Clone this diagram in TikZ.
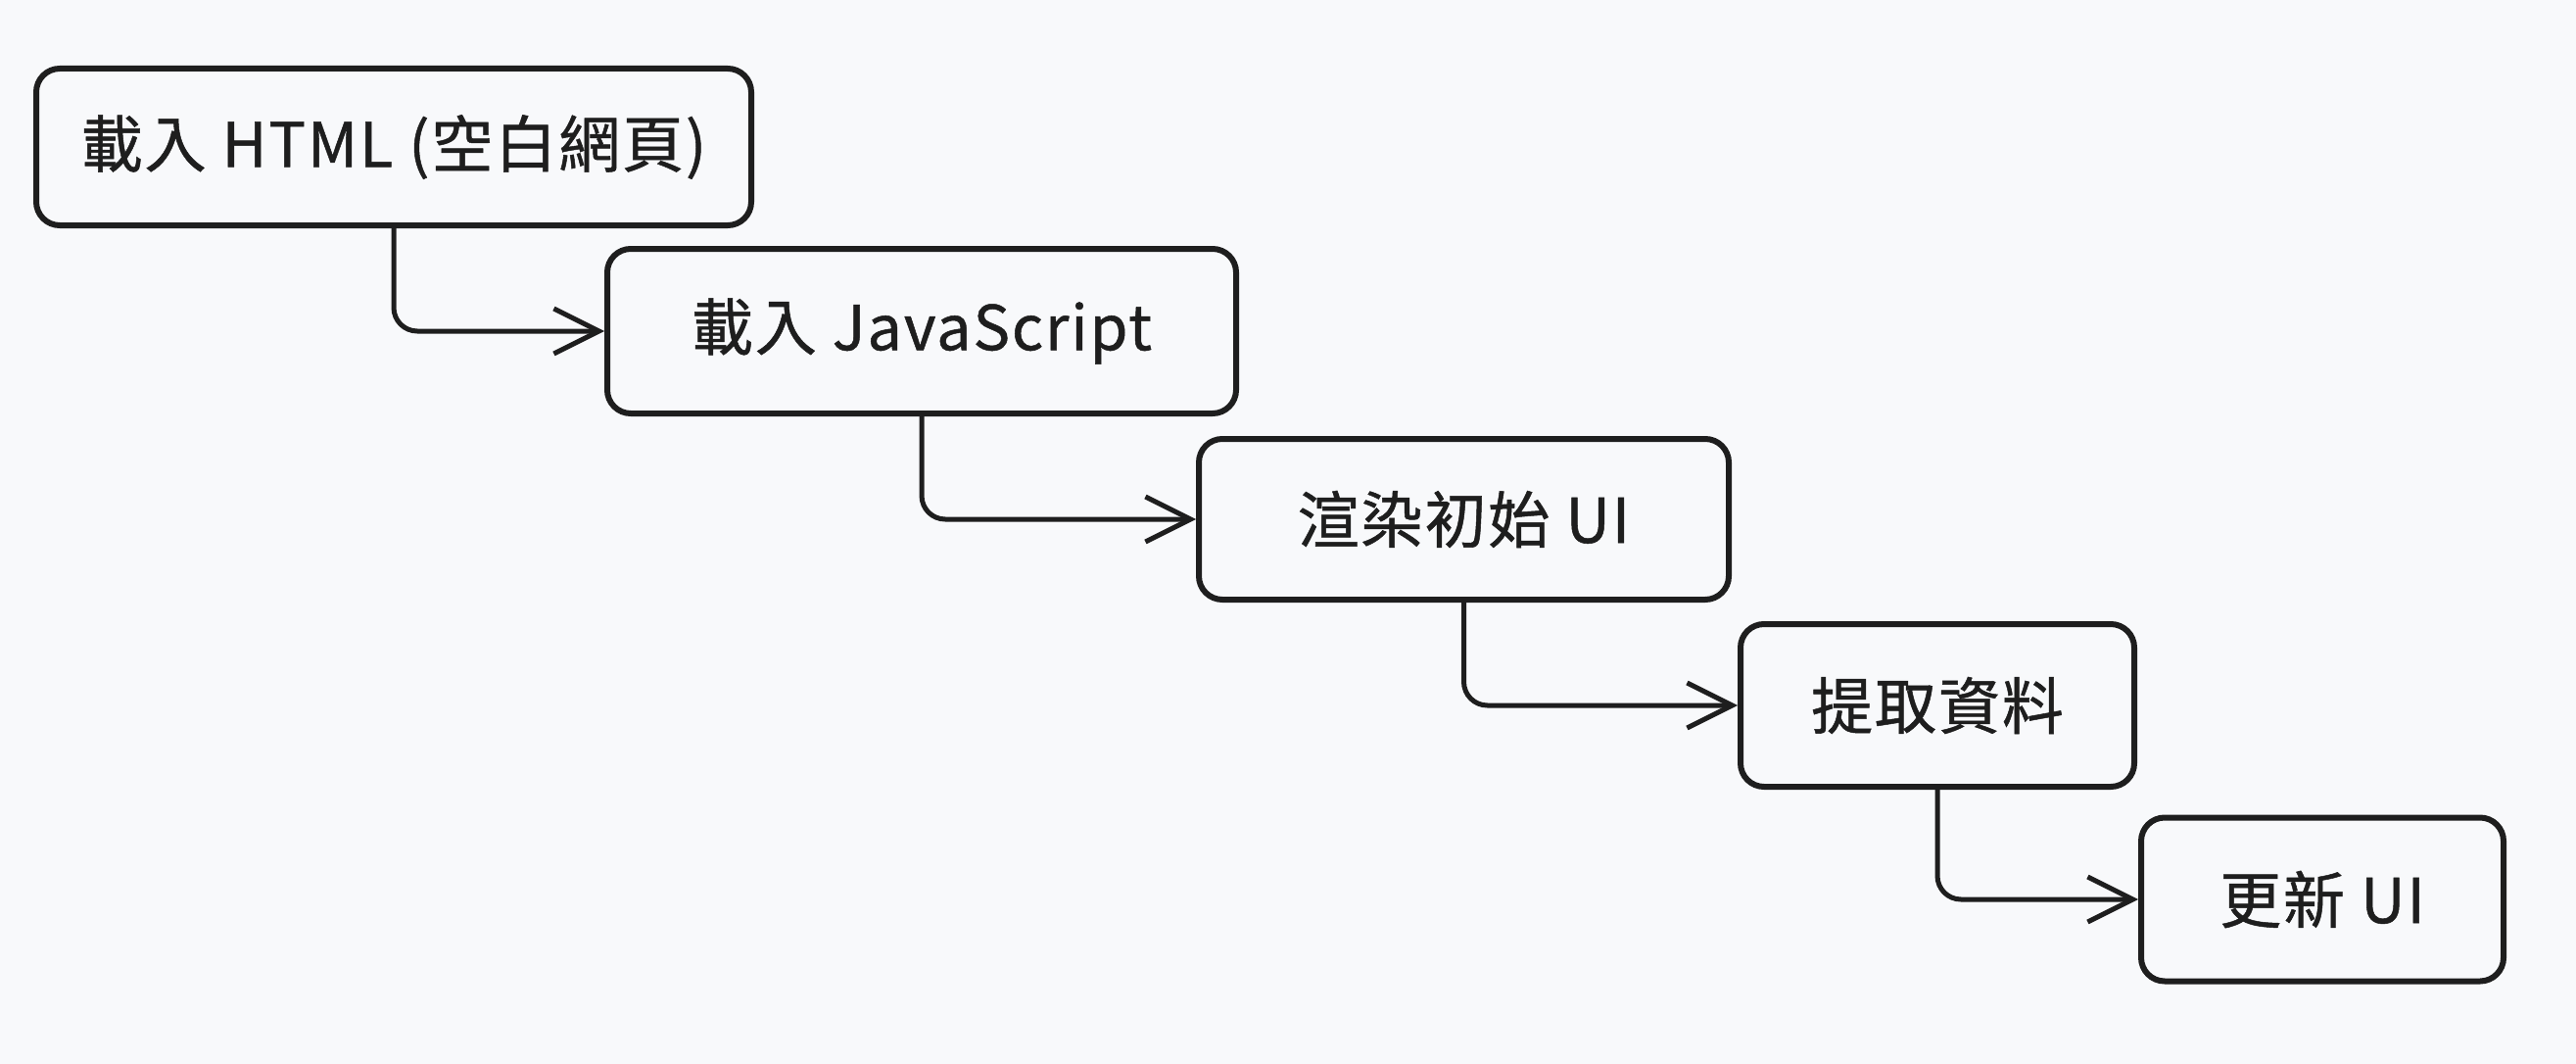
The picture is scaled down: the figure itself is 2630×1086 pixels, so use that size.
\documentclass[tikz,border=0pt]{standalone}
\usepackage{fontspec}
\setmainfont{Noto Sans CJK TC}[UprightFeatures={FakeBold=0.8},LetterSpace=3]
\usetikzlibrary{arrows.meta}
\definecolor{bg}{RGB}{248,249,251}
\definecolor{ink}{RGB}{30,30,30}
\begin{document}
\begin{tikzpicture}[x=1pt,y=-1pt,
  box/.style={draw=ink,line width=6pt,rounded corners=24pt,inner sep=0pt,font=\fontsize{63}{75}\selectfont,text=ink},
  conn/.style={draw=ink,line width=5pt,rounded corners=24pt,-{Straight Barb[length=46pt,width=46pt,line width=5pt]}}]
\fill[bg] (0,0) rectangle (2630,1086);
\useasboundingbox (0,0) rectangle (2630,1086);
\node[box,minimum width=730pt,minimum height=160pt] (b1) at (402,150) {載入 HTML (空白網頁)};
\node[box,minimum width=642pt,minimum height=168pt] (b2) at (941,338) {載入 JavaScript};
\node[box,minimum width=541pt,minimum height=164pt] (b3) at (1494.5,530) {渲染初始 UI};
\node[box,minimum width=402pt,minimum height=166pt] (b4) at (1978,720) {提取資料};
\node[box,minimum width=370pt,minimum height=167pt] (b5) at (2371,918) {更新 UI};
\draw[conn] (b1.south) |- (b2.west);
\draw[conn] (b2.south) |- (b3.west);
\draw[conn] (b3.south) |- (b4.west);
\draw[conn] (b4.south) |- (b5.west);
\end{tikzpicture}
\end{document}
